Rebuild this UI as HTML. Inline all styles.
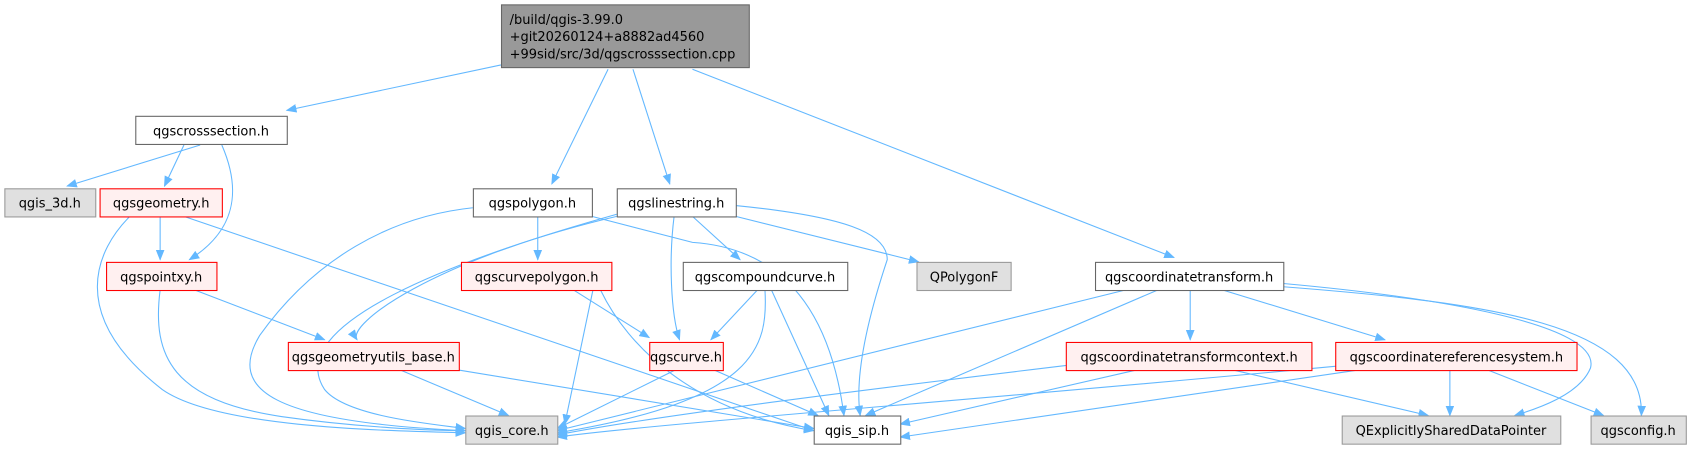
<!DOCTYPE html>
<html><head><meta charset="utf-8"><style>
html,body{margin:0;padding:0;background:#fff;width:1699px;height:451px;overflow:hidden}
svg text{font-family:"DejaVu Sans","Liberation Sans",sans-serif;font-size:12px;fill:#000}
</style></head><body>
<svg width="1699" height="451" viewBox="0 0 1699 451" xmlns="http://www.w3.org/2000/svg">
<defs><marker id="a" markerWidth="10" markerHeight="8" refX="9" refY="4" orient="auto" markerUnits="userSpaceOnUse"><path d="M0,0 L10,4 L0,8 z" fill="#63b8ff"/></marker></defs>
<g transform="scale(1.082)">
<g fill="none" stroke="#63b8ff" stroke-width="1" marker-end="url(#a)">
<path d="M463,60 L265,102"/>
<path d="M562,64 L510,170"/>
<path d="M585,64 L619,170"/>
<path d="M640,64 L1085,238"/>
<path d="M185,134 L62,172"/>
<path d="M170,134 L152,172"/>
<path d="M205,134 C225,180 215,215 175,240"/>
<path d="M148,200 L148,240"/>
<path d="M120,200 C90,230 60,290 150,360 C200,395 350,398 430,400"/>
<path d="M170,200 L752,398"/>
<path d="M180,268 L300,314"/>
<path d="M148,268 C140,330 160,370 260,385 C330,395 400,398 430,398"/>
<path d="M437,192 C360,200 290,240 240,310 C210,360 250,390 430,398"/>
<path d="M497,200 L497,240"/>
<path d="M547,200 L640,224 Q760,232 780,384"/>
<path d="M570,200 C400,240 320,300 330,314"/>
<path d="M570,198 C420,240 260,300 300,360 C320,385 400,392 430,396"/>
<path d="M623,200 C618,240 620,290 628,314"/>
<path d="M640,200 L684,240"/>
<path d="M680,200 L849,242"/>
<path d="M680,190 C780,200 820,215 820,240 C800,300 790,350 795,384"/>
<path d="M548,268 L522,392"/>
<path d="M555,268 C580,320 640,380 752,398"/>
<path d="M530,268 L600,312"/>
<path d="M700,268 L657,314"/>
<path d="M707,268 C710,320 700,370 515,400"/>
<path d="M713,268 L766,384"/>
<path d="M624,342 L515,396"/>
<path d="M660,342 L756,384"/>
<path d="M370,342 L470,384"/>
<path d="M424,342 L752,396"/>
<path d="M1040,268 L515,398"/>
<path d="M1070,268 L800,384"/>
<path d="M1100,268 L1100,314"/>
<path d="M1130,268 L1280,314"/>
<path d="M1186,262 C1330,275 1480,300 1470,340 C1460,365 1420,378 1400,384"/>
<path d="M1186,265 C1380,280 1520,300 1517,384"/>
<path d="M1000,336 C800,360 600,385 515,402"/>
<path d="M1050,342 L832,392"/>
<path d="M1140,342 L1320,384"/>
<path d="M1240,338 C900,370 600,392 515,404"/>
<path d="M1255,342 L832,404"/>
<path d="M1340,342 L1340,384"/>
<path d="M1375,342 L1482,384"/>
</g>
<g stroke-width="1">
<rect x="463.5" y="4.5" width="229" height="58" fill="#999" stroke="#666"/>
<text x="471" y="22">/build/qgis-3.99.0</text><text x="471" y="38">+git20260124+a8882ad4560</text><text x="471" y="54">+99sid/src/3d/qgscrosssection.cpp</text>
<rect x="125.5" y="107.5" width="140" height="26" fill="#fff" stroke="#666"/><text x="195" y="125" text-anchor="middle">qgscrosssection.h</text>
<rect x="4.5" y="174.5" width="84" height="26" fill="#e0e0e0" stroke="#999"/><text x="46" y="192" text-anchor="middle">qgis_3d.h</text>
<rect x="92.5" y="174.5" width="113" height="26" fill="#fff0f0" stroke="#f00"/><text x="149" y="192" text-anchor="middle">qgsgeometry.h</text>
<rect x="98.5" y="242.5" width="102" height="26" fill="#fff0f0" stroke="#f00"/><text x="149" y="260" text-anchor="middle">qgspointxy.h</text>
<rect x="437.5" y="174.5" width="110" height="26" fill="#fff" stroke="#666"/><text x="492" y="192" text-anchor="middle">qgspolygon.h</text>
<rect x="570.5" y="174.5" width="110" height="26" fill="#fff" stroke="#666"/><text x="625" y="192" text-anchor="middle">qgslinestring.h</text>
<rect x="426.5" y="242.5" width="139" height="26" fill="#fff0f0" stroke="#f00"/><text x="496" y="260" text-anchor="middle">qgscurvepolygon.h</text>
<rect x="631.5" y="242.5" width="152" height="26" fill="#fff" stroke="#666"/><text x="707" y="260" text-anchor="middle">qgscompoundcurve.h</text>
<rect x="847.5" y="242.5" width="87" height="26" fill="#e0e0e0" stroke="#999"/><text x="891" y="260" text-anchor="middle">QPolygonF</text>
<rect x="1012.5" y="242.5" width="174" height="26" fill="#fff" stroke="#666"/><text x="1099" y="260" text-anchor="middle">qgscoordinatetransform.h</text>
<rect x="266.5" y="316.5" width="158" height="26" fill="#fff0f0" stroke="#f00"/><text x="345" y="334" text-anchor="middle">qgsgeometryutils_base.h</text>
<rect x="600.5" y="316.5" width="68" height="26" fill="#fff0f0" stroke="#f00"/><text x="634" y="334" text-anchor="middle">qgscurve.h</text>
<rect x="985.5" y="316.5" width="227" height="26" fill="#fff0f0" stroke="#f00"/><text x="1099" y="334" text-anchor="middle">qgscoordinatetransformcontext.h</text>
<rect x="1234.5" y="316.5" width="223" height="26" fill="#fff0f0" stroke="#f00"/><text x="1346" y="334" text-anchor="middle">qgscoordinatereferencesystem.h</text>
<rect x="430.5" y="384.5" width="85" height="26" fill="#e0e0e0" stroke="#999"/><text x="473" y="402" text-anchor="middle">qgis_core.h</text>
<rect x="752.5" y="384.5" width="80" height="26" fill="#fff" stroke="#666"/><text x="792" y="402" text-anchor="middle">qgis_sip.h</text>
<rect x="1240.5" y="384.5" width="202" height="26" fill="#e0e0e0" stroke="#999"/><text x="1341" y="402" text-anchor="middle">QExplicitlySharedDataPointer</text>
<rect x="1470.5" y="384.5" width="88" height="26" fill="#e0e0e0" stroke="#999"/><text x="1514" y="402" text-anchor="middle">qgsconfig.h</text>
</g>
</g>
</svg>
</body></html>
